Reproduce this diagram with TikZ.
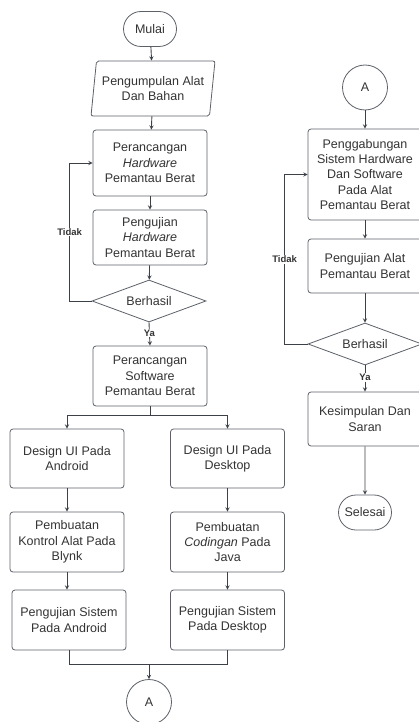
\documentclass[tikz,border=0pt]{standalone}
\usepackage{fontspec}
\setmainfont{Liberation Sans}
\usetikzlibrary{shapes.geometric,shapes.misc}
\definecolor{linegray}{HTML}{3C4148}
\definecolor{boxgray}{HTML}{5C6068}
\definecolor{textgray}{HTML}{333333}
\begin{document}
\begin{tikzpicture}
[x=1pt,y=-1pt,%
  every node/.style={text=textgray,align=center,font=\fontsize{12.5}{15.3}\selectfont},%
  box/.style={rectangle,draw=boxgray,line width=0.8pt,rounded corners=3pt,minimum width=114pt,minimum height=#1},%
  box/.default=60pt,%
  term/.style={rounded rectangle,draw=boxgray,line width=0.8pt,minimum width=57pt,minimum height=35pt,inner xsep=2pt},%
  io/.style={trapezium,trapezium left angle=80,trapezium right angle=100,trapezium stretches body,draw=boxgray,line width=0.8pt,rounded corners=2pt,minimum width=124pt,minimum height=55pt,inner xsep=0pt},%
  check/.style={diamond,draw=boxgray,line width=0.8pt,aspect=2.7,inner sep=0pt,minimum width=114pt,minimum height=42pt},%
  conn/.style={circle,draw=boxgray,line width=0.8pt,minimum size=45pt,inner sep=0pt},%
  flow/.style={->,>=stealth,draw=linegray,line width=0.9pt},%
  lbl/.style={fill=white,inner sep=1pt,font=\bfseries\fontsize{9.5}{11}\selectfont}]
\useasboundingbox (0,0) rectangle (419,722);
\node[term] (start) at (150,29) {Mulai};
\node[io] (collect) at (153,88.5) {Pengumpulan Alat\\Dan Bahan};
\node[box=66pt] (hwdesign) at (150,163) {Perancangan\\\textit{Hardware}\\Pemantau Berat};
\node[box=55pt] (hwtest) at (150,237.5) {Pengujian\\\textit{Hardware}\\Pemantau Berat};
\node[check] (hwcheck) at (149,301) {Berhasil};
\node[box] (swdesign) at (150,376) {Perancangan\\Software\\Pemantau Berat};
\node[box=59pt] (uiandroid) at (67,458.5) {Design UI Pada\\Android};
\node[box=59pt] (uidesktop) at (227.5,458.5) {Design UI Pada\\Desktop};
\node[box] (ctrlblynk) at (67,542) {Pembuatan\\Kontrol Alat Pada\\Blynk};
\node[box] (codejava) at (227.5,542) {Pembuatan\\\textit{Codingan} Pada\\Java};
\node[box] (testandroid) at (69,620) {Pengujian Sistem\\Pada Android};
\node[box] (testdesktop) at (227.5,620) {Pengujian Sistem\\Pada Desktop};
\node[conn] (conA) at (149,702) {A};
\node[conn] (conB) at (365,87.5) {A};
\node[box=91pt] (integrate) at (365,174.5) {Penggabungan\\Sistem Hardware\\Dan Software\\Pada Alat\\Pemantau Berat};
\node[box=54pt] (alattest) at (365,266) {Pengujian Alat\\Pemantau Berat};
\node[check] (syscheck) at (365,344) {Berhasil};
\node[box=54pt] (conclude) at (365,419) {Kesimpulan Dan\\Saran};
\node[term] (finish) at (365,512.5) {Selesai};
\coordinate (split) at (150,415);
\coordinate (join) at (149,664);
\draw[flow] (start) -- (collect);
\draw[flow] (collect) -- (hwdesign);
\draw[flow] (hwdesign) -- (hwtest);
\draw[flow] (hwtest) -- (hwcheck);
\draw[flow] (hwcheck.south) -- node[lbl,pos=0.45] {Ya} (swdesign.north);
\draw[flow] (hwcheck.west) -- ++(-22,0) |- node[lbl,pos=0.25] {Tidak} (hwdesign.west);
\draw[draw=linegray,line width=0.9pt] (swdesign.south) -- (split);
\draw[flow] (split) -| (uiandroid.north);
\draw[flow] (split) -| (uidesktop.north);
\draw[flow] (uiandroid) -- (ctrlblynk);
\draw[flow] (uidesktop) -- (codejava);
\draw[flow] (ctrlblynk.south) -- (ctrlblynk.south |- testandroid.north);
\draw[flow] (codejava) -- (testdesktop);
\draw[draw=linegray,line width=0.9pt] (testandroid.south) |- (join);
\draw[draw=linegray,line width=0.9pt] (testdesktop.south) |- (join);
\draw[flow] (join) -- (conA);
\draw[flow] (conB) -- (integrate);
\draw[flow] (integrate) -- (alattest);
\draw[flow] (alattest) -- (syscheck);
\draw[flow] (syscheck.south) -- node[lbl,pos=0.45] {Ya} (conclude.north);
\draw[flow] (syscheck.west) -- ++(-23,0) |- node[lbl,pos=0.25] {Tidak} (integrate.west);
\draw[flow] (conclude) -- (finish);
\end{tikzpicture}
\end{document}
